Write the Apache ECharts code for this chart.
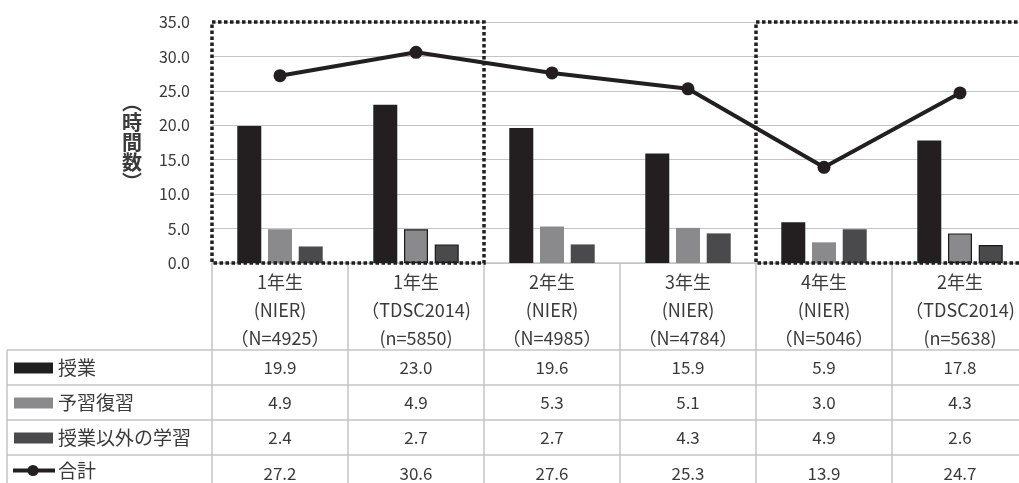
<!DOCTYPE html>
<html>
<head>
<meta charset="utf-8">
<script src="https://cdn.jsdelivr.net/npm/echarts@6/dist/echarts.min.js"></script>
<style>
  html, body { margin: 0; padding: 0; background: #fff; overflow: hidden; }
  #chart { width: 1028px; height: 483px; }
</style>
</head>
<body>
<div id="chart"></div>
<script>
// Survey groups (grade / source / sample size)
const categories = [
  '1年生\n(NIER)\n（N=4925）',
  '1年生\n（TDSC2014)\n(n=5850)',
  '2年生\n(NIER)\n（N=4985）',
  '3年生\n(NIER)\n（N=4784）',
  '4年生\n(NIER)\n（N=5046）',
  '2年生\n（TDSC2014)\n(n=5638)'
];

// Weekly hours per activity
const seriesNames = ['授業', '予習復習', '授業以外の学習', '合計'];
const lessons    = [19.9, 23.0, 19.6, 15.9, 5.9, 17.8];
const prepReview = [4.9, 4.9, 5.3, 5.1, 3.0, 4.3];
const otherStudy = [2.4, 2.7, 2.7, 4.3, 4.9, 2.6];
const total      = [27.2, 30.6, 27.6, 25.3, 13.9, 24.7];

// Category ranges enclosed by the dotted frames
const framedRanges = [[0, 1], [4, 5]];

const colors = ['#231f20', '#8a8a8d', '#4a4a4d', '#231f20'];
const FONT = '"Noto Sans CJK JP", "Noto Sans", sans-serif';
const TEXT = '#3a3a3a';
const RULE = '#c4c4c4';
const WIDTH = 1028;

// Bars for the TDSC2014 groups carry a thin outline
const outlined = [1, 5];
function barData(values, seriesIdx) {
  return values.map((v, i) => (seriesIdx > 0 && outlined.includes(i))
    ? { value: v, itemStyle: { borderColor: '#1a1a1a', borderWidth: 1.2 } }
    : v);
}

const chart = echarts.init(document.getElementById('chart'), null, { renderer: 'canvas' });

chart.setOption({
  animation: false,
  textStyle: { fontFamily: FONT },
  grid: { left: 212, right: 0, top: 22, bottom: 220 },
  xAxis: {
    type: 'category',
    data: categories,
    boundaryGap: true,
    axisLine: { show: true, lineStyle: { color: RULE, width: 1.5 } },
    axisTick: { show: true, alignWithLabel: false, length: 240, lineStyle: { color: RULE, width: 1.5 } },
    axisLabel: { color: TEXT, fontSize: 18, lineHeight: 28, margin: 5, fontFamily: FONT, interval: 0 }
  },
  yAxis: {
    type: 'value',
    min: 0, max: 35, interval: 5,
    name: '︵\n時\n間\n数\n︶',
    nameLocation: 'middle',
    nameRotate: 0,
    nameGap: 70,
    nameTextStyle: { color: TEXT, fontSize: 20, fontWeight: 'bold', lineHeight: 20, padding: [0, 0, 36, 0], fontFamily: FONT },
    axisLine: { show: false },
    axisTick: { show: false },
    axisLabel: { color: TEXT, fontSize: 16, margin: 22, formatter: v => v.toFixed(1), fontFamily: FONT },
    splitLine: { show: true, lineStyle: { color: RULE, width: 1.2 } }
  },
  series: [
    { name: seriesNames[0], type: 'bar', data: barData(lessons, 0), barWidth: 24, barGap: '28%', itemStyle: { color: colors[0] } },
    { name: seriesNames[1], type: 'bar', data: barData(prepReview, 1), barWidth: 24, barGap: '28%', itemStyle: { color: colors[1] } },
    { name: seriesNames[2], type: 'bar', data: barData(otherStudy, 2), barWidth: 24, barGap: '28%', itemStyle: { color: colors[2] } },
    {
      name: seriesNames[3], type: 'line', data: total, z: 5,
      symbol: 'circle', symbolSize: 13,
      lineStyle: { color: colors[3], width: 4 },
      itemStyle: { color: colors[3] }
    }
  ]
});

// Dotted frames and the data table underneath the plot
function drawExtras() {
  const cx = i => chart.convertToPixel({ xAxisIndex: 0 }, i);
  const band = cx(1) - cx(0);
  const yTop = chart.convertToPixel({ yAxisIndex: 0 }, 35);
  const yZero = chart.convertToPixel({ yAxisIndex: 0 }, 0);
  const elements = [];

  framedRanges.forEach(([a, b]) => {
    const x0 = cx(a) - band / 2;
    const x1 = cx(b) + band / 2;
    elements.push({
      type: 'rect', z: 10,
      shape: { x: x0, y: yTop, width: x1 - x0, height: yZero - yTop },
      style: { fill: null, stroke: '#1f1f1f', lineWidth: 3.5, lineDash: [3.5, 2.5] }
    });
  });

  const tableLeft = 7;
  const headerBottom = yZero + 87;
  const rowH = 35;
  const rows = [lessons, prepReview, otherStudy, total];

  // left border of the legend column
  elements.push({ type: 'line', shape: { x1: tableLeft, y1: headerBottom, x2: tableLeft, y2: 483 }, style: { stroke: RULE, lineWidth: 1.5 } });

  for (let r = 0; r < rows.length; r++) {
    const top = headerBottom + r * rowH;
    const mid = top + rowH / 2;
    elements.push({ type: 'line', shape: { x1: tableLeft, y1: top, x2: WIDTH, y2: top }, style: { stroke: RULE, lineWidth: 1.5 } });

    // legend key
    if (r < 3) {
      elements.push({ type: 'rect', shape: { x: 14, y: mid - 5, width: 39, height: 11 }, style: { fill: colors[r] } });
    } else {
      elements.push({ type: 'line', shape: { x1: 13, y1: mid - 2, x2: 55, y2: mid - 2 }, style: { stroke: colors[3], lineWidth: 4 } });
      elements.push({ type: 'circle', shape: { cx: 33, cy: mid - 2, r: 5.5 }, style: { fill: colors[3] } });
    }
    elements.push({
      type: 'text', x: 58, y: mid + (r === 3 ? -2 : 0),
      style: { text: seriesNames[r], font: '19px ' + FONT, fill: TEXT, verticalAlign: 'middle', align: 'left' }
    });

    rows[r].forEach((v, i) => {
      elements.push({
        type: 'text', x: cx(i), y: mid + (r === 3 ? 1 : 0),
        style: { text: v.toFixed(1), font: '17px ' + FONT, fill: TEXT, verticalAlign: 'middle', align: 'center' }
      });
    });
  }

  chart.setOption({ graphic: elements });
}

drawExtras();
</script>
</body>
</html>
